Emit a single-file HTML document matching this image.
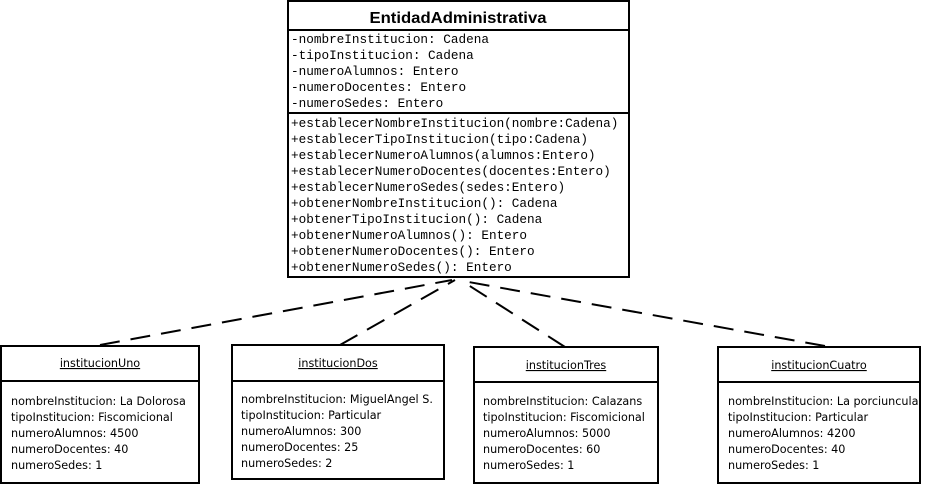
<!DOCTYPE html>
<html><head><meta charset="utf-8"><style>
html,body{margin:0;padding:0;background:#fff;width:933px;height:487px;overflow:hidden}
</style></head><body>
<svg width="933" height="487" xmlns="http://www.w3.org/2000/svg">
<rect width="933" height="487" fill="#fff"/>
<g stroke="#000" stroke-width="2" fill="none" stroke-dasharray="20,11">
<line x1="100" y1="345" x2="452" y2="280"/>
<line x1="340" y1="345" x2="455" y2="280"/>
<line x1="565" y1="347" x2="462" y2="281"/>
<line x1="825" y1="346" x2="463" y2="281"/>
</g>
<g stroke="#000" stroke-width="2" fill="#fff">
<rect x="288" y="1" width="341" height="276"/>
<line x1="288" y1="30" x2="629" y2="30"/>
<line x1="288" y1="113" x2="629" y2="113"/>
<rect x="1" y="346" width="198" height="137"/>
<line x1="1" y1="381" x2="199" y2="381"/>
<rect x="232" y="345" width="212" height="134"/>
<line x1="232" y1="381" x2="444" y2="381"/>
<rect x="474" y="347" width="184" height="136"/>
<line x1="474" y1="382" x2="658" y2="382"/>
<rect x="718" y="347" width="202" height="136"/>
<line x1="718" y1="382" x2="920" y2="382"/>
</g>
<text x="458" y="23" text-anchor="middle" font-family="Liberation Sans, sans-serif" font-weight="bold" font-size="16" textLength="177" lengthAdjust="spacingAndGlyphs">EntidadAdministrativa</text>
<g font-family="Liberation Mono, monospace" font-size="12.7" fill="#000">
<text x="291" y="43">-nombreInstitucion: Cadena</text>
<text x="291" y="59">-tipoInstitucion: Cadena</text>
<text x="291" y="75">-numeroAlumnos: Entero</text>
<text x="291" y="91">-numeroDocentes: Entero</text>
<text x="291" y="107">-numeroSedes: Entero</text>
<text x="291" y="127">+establecerNombreInstitucion(nombre:Cadena)</text>
<text x="291" y="143">+establecerTipoInstitucion(tipo:Cadena)</text>
<text x="291" y="159">+establecerNumeroAlumnos(alumnos:Entero)</text>
<text x="291" y="175">+establecerNumeroDocentes(docentes:Entero)</text>
<text x="291" y="191">+establecerNumeroSedes(sedes:Entero)</text>
<text x="291" y="207">+obtenerNombreInstitucion(): Cadena</text>
<text x="291" y="223">+obtenerTipoInstitucion(): Cadena</text>
<text x="291" y="239">+obtenerNumeroAlumnos(): Entero</text>
<text x="291" y="255">+obtenerNumeroDocentes(): Entero</text>
<text x="291" y="271">+obtenerNumeroSedes(): Entero</text>
</g>
<g font-family="DejaVu Sans, sans-serif" font-size="11.2" fill="#000">
<text x="100" y="367" text-anchor="middle" text-decoration="underline">institucionUno</text>
<text x="338" y="367" text-anchor="middle" text-decoration="underline">institucionDos</text>
<text x="566" y="369" text-anchor="middle" text-decoration="underline">institucionTres</text>
<text x="819" y="369" text-anchor="middle" text-decoration="underline">institucionCuatro</text>
<g>
<text x="11" y="405">nombreInstitucion: La Dolorosa</text>
<text x="11" y="421">tipoInstitucion: Fiscomicional</text>
<text x="11" y="437">numeroAlumnos: 4500</text>
<text x="11" y="453">numeroDocentes: 40</text>
<text x="11" y="469">numeroSedes: 1</text>
</g>
<g>
<text x="241" y="403">nombreInstitucion: MiguelAngel S.</text>
<text x="241" y="419">tipoInstitucion: Particular</text>
<text x="241" y="435">numeroAlumnos: 300</text>
<text x="241" y="451">numeroDocentes: 25</text>
<text x="241" y="467">numeroSedes: 2</text>
</g>
<g>
<text x="483" y="405">nombreInstitucion: Calazans</text>
<text x="483" y="421">tipoInstitucion: Fiscomicional</text>
<text x="483" y="437">numeroAlumnos: 5000</text>
<text x="483" y="453">numeroDocentes: 60</text>
<text x="483" y="469">numeroSedes: 1</text>
</g>
<g>
<text x="728" y="405">nombreInstitucion: La porciuncula</text>
<text x="728" y="421">tipoInstitucion: Particular</text>
<text x="728" y="437">numeroAlumnos: 4200</text>
<text x="728" y="453">numeroDocentes: 40</text>
<text x="728" y="469">numeroSedes: 1</text>
</g>
</g>
</svg>
</body></html>
